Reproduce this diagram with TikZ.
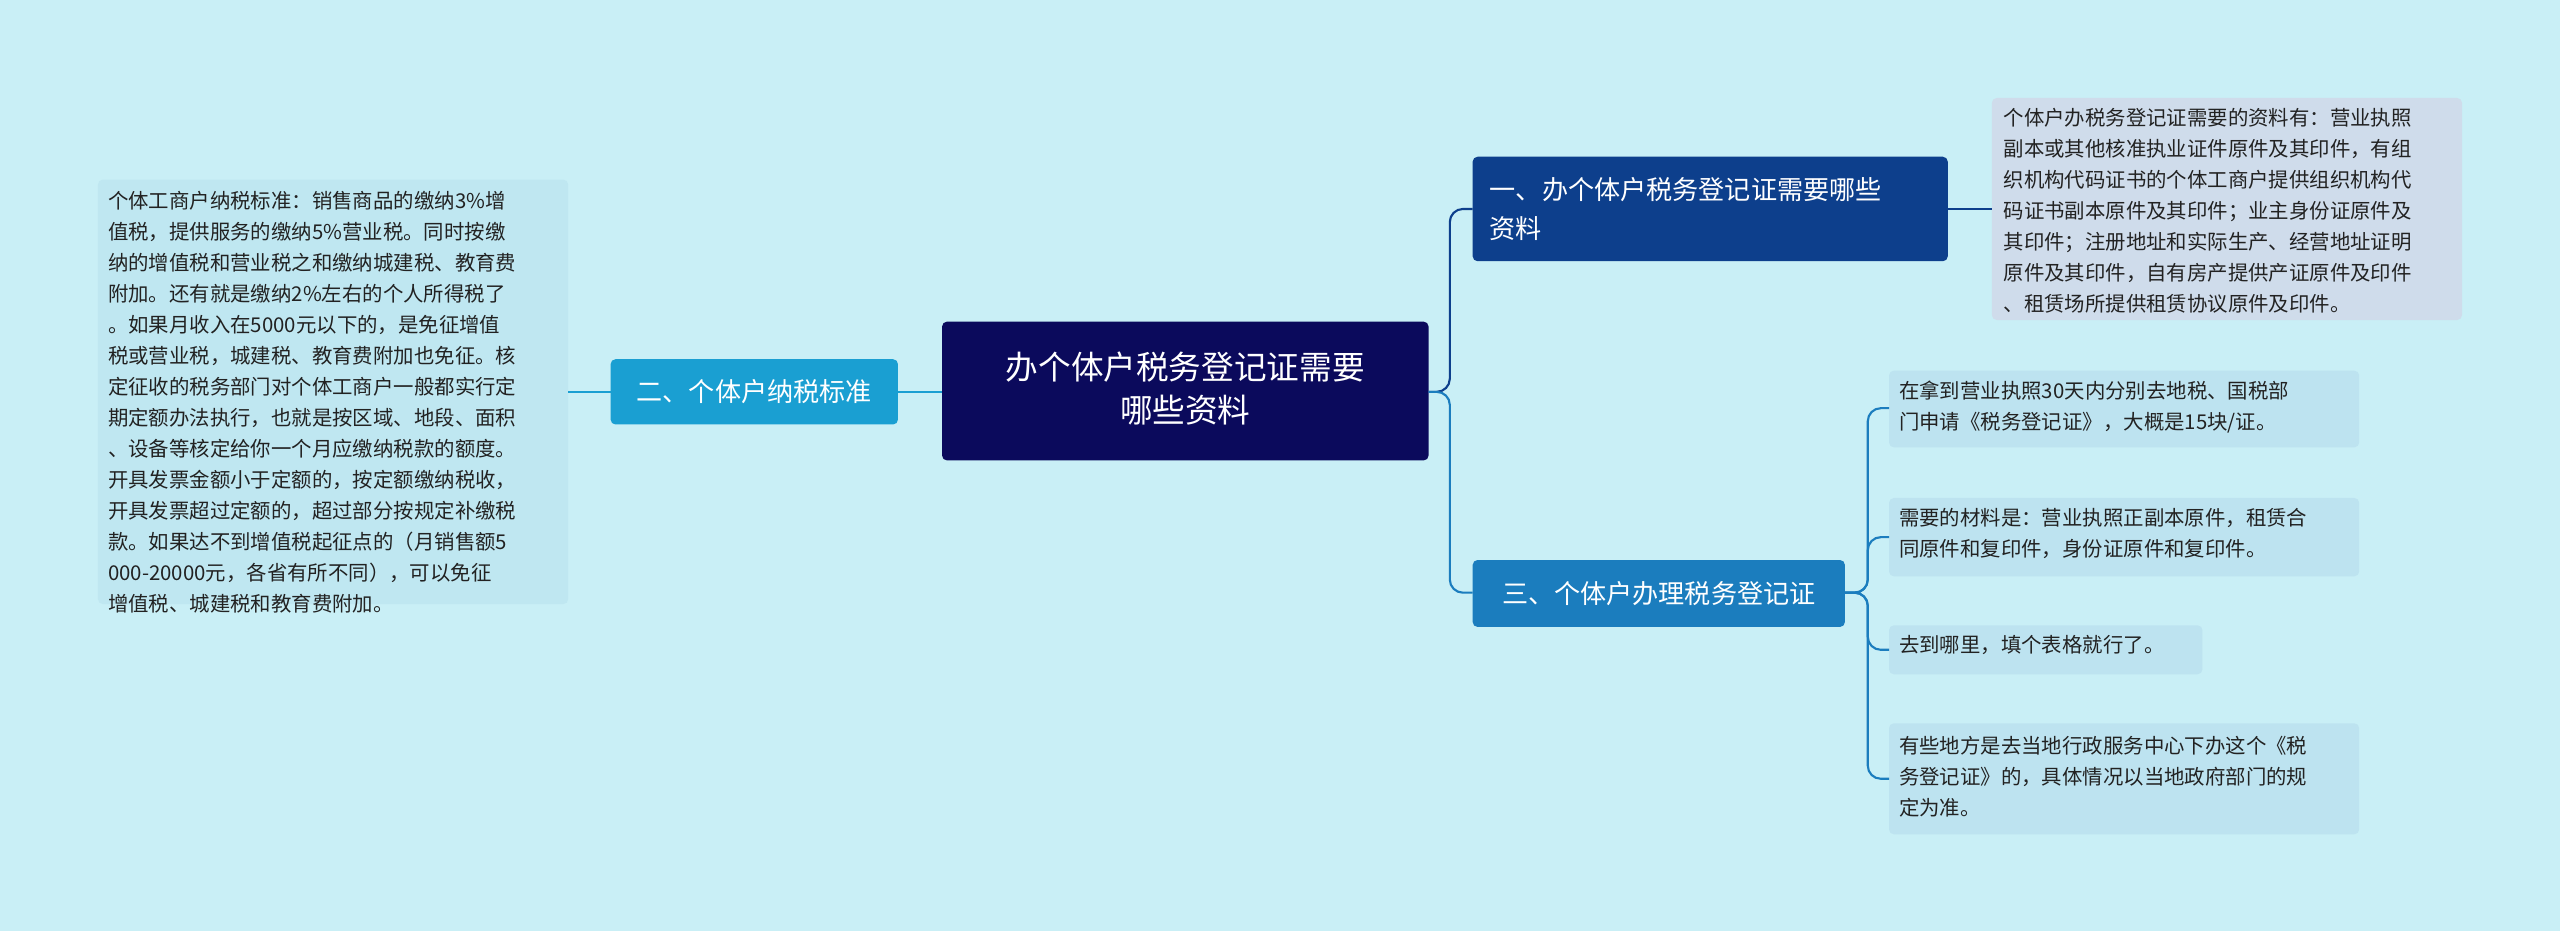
\documentclass[tikz,border=0pt]{standalone}
\usepackage{fontspec}
\setmainfont{Noto Sans CJK SC}
\definecolor{bg}{HTML}{C9EFF6}
\definecolor{navy}{HTML}{0B0A5C}
\definecolor{dblue}{HTML}{0D3F8C}
\definecolor{mblue}{HTML}{1B7DBE}
\definecolor{cblue}{HTML}{1A9FD2}
\definecolor{leafL}{HTML}{BFE7F1}
\definecolor{leafR}{HTML}{CFDCEB}
\definecolor{leafM}{HTML}{BDE3F0}
\definecolor{txt}{HTML}{222222}
\begin{document}
\begin{tikzpicture}[x=1pt,y=-1pt,
  box/.style={rounded corners=3pt,inner sep=0pt,anchor=north west},
  leaftext/.style={font=\fontsize{12.5}{19}\selectfont,text=txt,align=left,anchor=north west,inner sep=0pt},
  link/.style={line width=1.3pt,rounded corners=8pt}]
\useasboundingbox (0,0) rectangle (1568,570);
\fill[bg] (0,0) rectangle (1568,570);
% boxes
\fill[navy,rounded corners=3pt] (577,197) rectangle (875,282);
\node (c) at (726,240) {\color{white}\fontsize{20}{28}\selectfont\begin{tabular}{c}办个体户税务登记证需要\\[-2pt]哪些资料\end{tabular}};
\coordinate (cR) at (875,240); \coordinate (cL) at (577,240);
\fill[cblue,rounded corners=3pt] (374,220) rectangle (550,260);
\node (l) at (462,240) {\color{white}\fontsize{16}{20}\selectfont 二、个体户纳税标准};
\coordinate (lR) at (550,240); \coordinate (lL) at (374,240);
\fill[leafL,rounded corners=3pt] (60,110) rectangle (348,370);
\node[leaftext] (ll) at (66,117) {个体工商户纳税标准：销售商品的缴纳3\%增\\值税，提供服务的缴纳5\%营业税。同时按缴\\纳的增值税和营业税之和缴纳城建税、教育费\\附加。还有就是缴纳2\%左右的个人所得税了\\。如果月收入在5000元以下的，是免征增值\\税或营业税，城建税、教育费附加也免征。核\\定征收的税务部门对个体工商户一般都实行定\\期定额办法执行，也就是按区域、地段、面积\\、设备等核定给你一个月应缴纳税款的额度。\\开具发票金额小于定额的，按定额缴纳税收，\\开具发票超过定额的，超过部分按规定补缴税\\款。如果达不到增值税起征点的（月销售额5\\000-20000元，各省有所不同），可以免征\\增值税、城建税和教育费附加。};
\coordinate (llR) at (348,240);
\fill[dblue,rounded corners=3pt] (902,96) rectangle (1193,160);
\node[anchor=west,align=left,text=white,font=\fontsize{16}{24}\selectfont] (r1) at (909,128) {一、办个体户税务登记证需要哪些\\资料};
\coordinate (r1L) at (902,128); \coordinate (r1R) at (1193,128);
\fill[leafR,rounded corners=3pt] (1220,60) rectangle (1508,196);
\node[leaftext] (r1l) at (1227,66) {个体户办税务登记证需要的资料有：营业执照\\副本或其他核准执业证件原件及其印件，有组\\织机构代码证书的个体工商户提供组织机构代\\码证书副本原件及其印件；业主身份证原件及\\其印件；注册地址和实际生产、经营地址证明\\原件及其印件，自有房产提供产证原件及印件\\、租赁场所提供租赁协议原件及印件。};
\coordinate (r1lL) at (1220,128);
\fill[mblue,rounded corners=3pt] (902,343) rectangle (1130,384);
\node[text=white,font=\fontsize{16}{20}\selectfont] (r3) at (1016,363.5) {三、个体户办理税务登记证};
\coordinate (r3L) at (902,363); \coordinate (r3R) at (1130,363);
\fill[leafM,rounded corners=3pt] (1157,227) rectangle (1445,274);
\node[leaftext] (a) at (1163,233) {在拿到营业执照30天内分别去地税、国税部\\门申请《税务登记证》，大概是15块/证。};
\fill[leafM,rounded corners=3pt] (1157,305) rectangle (1445,353);
\node[leaftext] (b) at (1163,311) {需要的材料是：营业执照正副本原件，租赁合\\同原件和复印件，身份证原件和复印件。};
\fill[leafM,rounded corners=3pt] (1157,383) rectangle (1349,413);
\node[leaftext] (d) at (1163,389) {去到哪里，填个表格就行了。};
\fill[leafM,rounded corners=3pt] (1157,443) rectangle (1445,511);
\node[leaftext] (e) at (1163,451) {有些地方是去当地行政服务中心下办这个《税\\务登记证》的，具体情况以当地政府部门的规\\定为准。};
% connectors
\draw[link,draw=cblue] (cL) -- (lR);
\draw[link,draw=cblue] (lL) -- (llR);
\draw[link,draw=dblue] (cR) -- (888,240) -- (888,128) -- (r1L);
\draw[link,draw=mblue] (cR) -- (888,240) -- (888,363) -- (r3L);
\draw[link,draw=dblue] (r1R) -- (r1lL);
\foreach \y in {250,329,398,477}{
  \draw[link,draw=mblue] (r3R) -- (1144,363) -- (1144,\y) -- (1157,\y);}
\end{tikzpicture}
\end{document}
